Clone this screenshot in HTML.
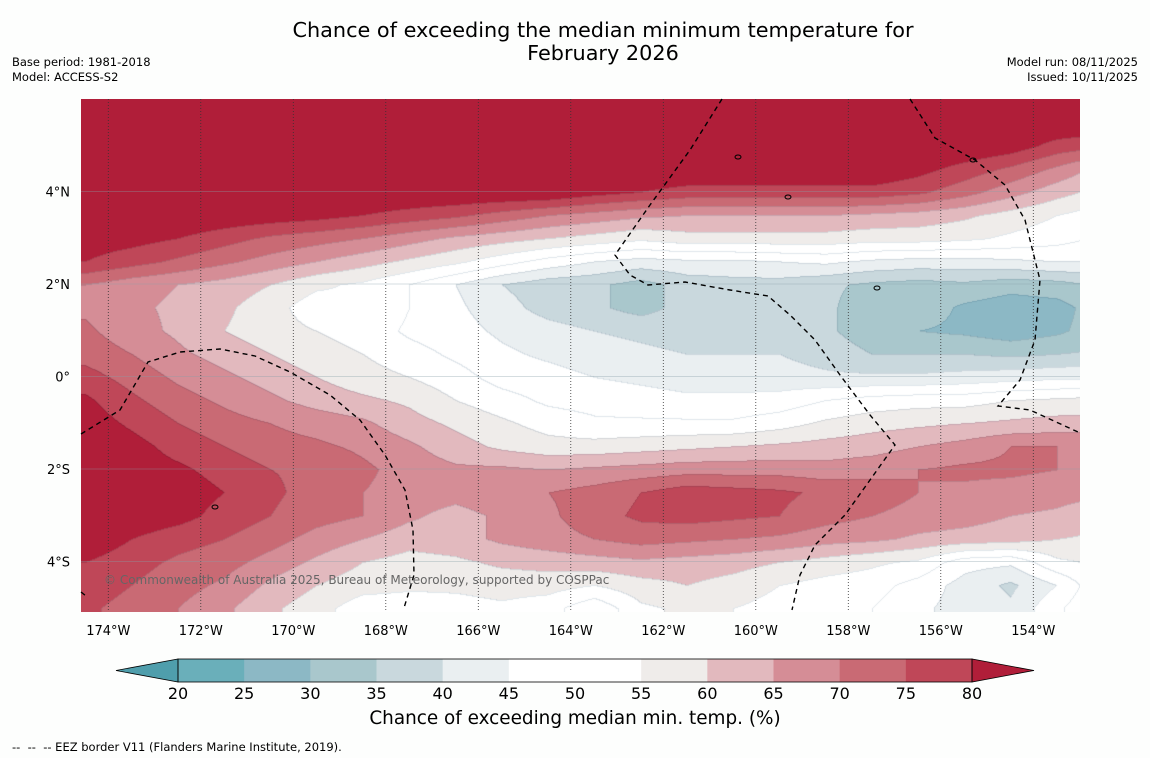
<!DOCTYPE html>
<html><head><meta charset="utf-8">
<style>
body{margin:0;background:#fdfefd;font-family:"DejaVu Sans",sans-serif;}
#wrap{position:relative;width:1150px;height:758px;overflow:hidden;background:#fdfefd;}
.t{position:absolute;color:#000;white-space:nowrap;}
</style></head>
<body>
<div id="wrap">
<div class="t" style="left:0;width:1206px;text-align:center;top:19px;font-size:20.8px;line-height:23px;">Chance of exceeding the median minimum temperature for<br>February 2026</div>
<div class="t" style="left:12px;top:55px;font-size:11.5px;line-height:15px;">Base period: 1981-2018<br>Model: ACCESS-S2</div>
<div class="t" style="right:12px;top:55px;font-size:11.5px;line-height:15px;text-align:right;">Model run: 08/11/2025<br>Issued: 10/11/2025</div>
<canvas id="map" width="999" height="513" style="position:absolute;left:81px;top:99px;"></canvas>
<svg id="ov" width="1150" height="758" style="position:absolute;left:0;top:0;"></svg>
<div class="t" style="left:104px;top:573px;font-size:12px;color:#666;">© Commonwealth of Australia 2025, Bureau of Meteorology, supported by COSPPac</div>
<div class="t" style="left:0;width:1150px;text-align:center;top:708px;font-size:18.4px;">Chance of exceeding median min. temp. (%)</div>
<div class="t" style="left:12px;top:740px;font-size:11.5px;">-- &nbsp;-- &nbsp;-- EEZ border V11 (Flanders Marine Institute, 2019).</div>
</div>
<script>
const levels=[20,25,30,35,40,45,50,55,60,65,70,75,80];
const bandColors=["#4f9eac","#6aafba","#8cb8c5","#a9c7cc","#c9d8dd","#eaeff1","#ffffff","#ffffff","#efecea","#e2b9be","#d58d96","#c96a74","#bf4758","#b01e39"];
const lonTicks=[-174,-172,-170,-168,-166,-164,-162,-160,-158,-156,-154];
const latTicks=[4,2,0,-2,-4];
const gridLons=[-174.5,-173.5,-172.5,-171.5,-170.5,-169.5,-168.5,-167.5,-166.5,-165.5,-164.5,-163.5,-162.5,-161.5,-160.5,-159.5,-158.5,-157.5,-156.5,-155.5,-154.5,-153.5,-152.5];
const gridLats=[6,5.5,5,4.5,4,3.5,3,2.5,2,1.5,1,0.5,0,-0.5,-1,-1.5,-2,-2.5,-3,-3.5,-4,-4.5,-5,-5.5];
const r6=[85,85,85,85,85,85,85,85,85,85,85,85,85,85,85,85,85,85,85,85,85,85,85];
const r55=[85,85,85,85,85,85,85,85,85,85,85,85,85,85,85,85,85,85,85,85,85,85,84];
const r5=[85,85,85,85,85,85,85,85,85,85,85,85,85,85,85,85,85,85,85,85,83,78,76];
const r45=[85,85,85,85,85,85,85,85,85,85,85,85,85,85,85,85,85,85,82,78,74,69,63];
const r4=[85,85,85,85,85,85,85,85,85,85,85,82,80,78,78,78,78,78,76,72,67,62,58];
const r35=[85,85,85,84,83,82,80,78,76,73,70,68,66,65,65,65,65,64,63,61,58,55,52];
const r3=[83,82,80,77,74,72,70,67,64,62,60,58,56,58,58,58,58,57,57,56,54,52,49];
const r25=[80,77,74,71,68,65,62,59,56,52,48,45,43,44,44,45,46,44,43,43,44,45,45];
const r2=[70,67,65,63,60,56,54,50,45,40,37,36,33,37,38,38,36,34,33,34,32,33,36];
const r15=[69,66,64,61,57,52,55,50,46,42,38,36,33,37,38,38,36,32,33,29,27,28,33];
const r1=[71,67,64,60,57,55,53,49,47,44,42,40,39,38,38,38,36,32,30,29,27,29,33];
const r05=[73,70,66,63,60,57,55,52,49,46,44,42,41,40,40,40,38,35,35,35,34,35,36];
const r0=[77,73,69,66,63,60,57,55,52,48,47,45,44,43,43,42,41,41,41,42,43,44,44];
const rm05=[81,76,72,69,66,63,61,59,55,52,49,48,47,46,46,47,50,52,53,53,55,56,57];
const rm1=[83,79,75,72,70,68,66,62,59,56,53,51,51,51,51,53,56,58,59,60,61,62,62];
const rm15=[85,82,78,75,72,71,69,66,62,59,57,57,58,59,60,61,62,63,65,67,70,70,70];
const rm2=[85,83,81,78,75,74,71,68,66,66,65,66,67,68,68,68,67,68,70,71,71,70,68];
const rm25=[86,85,83,80,76,73,70,68,67,69,70,72,75,78,77,76,74,73,70,69,68,67,66];
const rm3=[85,84,82,78,75,72,70,66,63,66,69,73,76,77,76,75,72,70,68,67,65,64,61];
const rm35=[84,80,77,75,72,68,65,62,63,66,68,70,72,71,70,69,67,66,64,63,62,60,59];
const rm4=[80,77,74,72,68,64,60,58,59,61,62,63,64,63,62,60,58,56,54,47,46,54,56];
const rm45=[78,75,72,69,64,60,57,56,56,57,57,55,58,60,58,55,53,52,48,43,39,45,55];
const rm5=[76,73,70,66,61,57,52,52,53,54,52,46,54,56,55,53,51,50,46,43,41,49,56];
const rm55=[76,73,70,66,61,57,52,52,53,54,52,46,54,56,55,53,51,50,46,43,41,49,56];
const grid=[r6,r55,r5,r45,r4,r35,r3,r25,r2,r15,r1,r05,r0,rm05,rm1,rm15,rm2,rm25,rm3,rm35,rm4,rm45,rm5,rm55];

const X0=81,Y0=99,W=999,H=513,PX=46.25,LON0=-174.59,LAT0=6.0;
const xOf=lon=>X0+(lon-LON0)*PX;
const yOf=lat=>Y0+(LAT0-lat)*PX;
function band(v){let i=0;while(i<levels.length&&v>=levels[i])i++;return i;}
function hex(c){return [parseInt(c.substr(1,2),16),parseInt(c.substr(3,2),16),parseInt(c.substr(5,2),16)];}
const rgb=bandColors.map(hex);
function val(lon,lat){
 const dl=gridLons[1]-gridLons[0];
 let fi=(lon-gridLons[0])/dl;fi=Math.max(0,Math.min(gridLons.length-1.001,fi));
 let fj=(gridLats[0]-lat)/(gridLats[0]-gridLats[1]);fj=Math.max(0,Math.min(gridLats.length-1.001,fj));
 const i=Math.floor(fi),j=Math.floor(fj),a=fi-i,b=fj-j;
 return grid[j][i]*(1-a)*(1-b)+grid[j][i+1]*a*(1-b)+grid[j+1][i]*(1-a)*b+grid[j+1][i+1]*a*b;
}
const cv=document.getElementById('map'),ctx=cv.getContext('2d');
const img=ctx.createImageData(W,H);
const B=new Uint8Array(W*H);
for(let y=0;y<H;y++)for(let x=0;x<W;x++){
 const lon=LON0+x/PX,lat=LAT0-y/PX;B[y*W+x]=band(val(lon,lat));}
for(let y=0;y<H;y++)for(let x=0;x<W;x++){
 const k=y*W+x,b=B[k];let c=rgb[b].slice();
 const edge=(x>0&&B[k-1]!==b)||(y>0&&B[k-W]!==b);
 if(edge){c=[c[0]*0.88,c[1]*0.9,c[2]*0.92];}
 img.data[k*4]=c[0];img.data[k*4+1]=c[1];img.data[k*4+2]=c[2];img.data[k*4+3]=255;}
ctx.putImageData(img,0,0);

const NS='http://www.w3.org/2000/svg';
const ov=document.getElementById('ov');
function mk(t,a,p){const e=document.createElementNS(NS,t);for(const k in a)e.setAttribute(k,a[k]);(p||ov).appendChild(e);return e;}
lonTicks.forEach(l=>{
 const x=xOf(l);
 const g=mk('line',{x1:x,x2:x,y1:Y0,y2:Y0+H,stroke:'#333','stroke-width':0.8,'stroke-dasharray':'1,2'});
 
 
 const t=mk('text',{x:x,y:635,'text-anchor':'middle','font-size':13,'font-family':'DejaVu Sans, sans-serif'});
 t.textContent=Math.abs(l)+'°W';
 
 
});
latTicks.forEach(l=>{
 const y=yOf(l);
 const g=mk('line',{x1:X0,x2:X0+W,y1:y,y2:y,stroke:'#8aa0a8','stroke-width':0.6,'stroke-opacity':0.7});
 
 
 const t=mk('text',{x:70,y:y+5,'text-anchor':'end','font-size':13,'font-family':'DejaVu Sans, sans-serif'});
 t.textContent=l===0?'0°':Math.abs(l)+'°'+(l>0?'N':'S');
 
 
});
const eez=["M81,434 L120,410 L148,362 L180,352 L220,349 L255,356 L290,372 L330,395 L360,420 L385,455 L405,490 L413,530 L414,575 L404,608",
"M722,99 L690,150 L650,205 L615,255 L630,275 L648,285 L685,282 L730,290 L768,296 L790,315 L815,340 L840,375 L870,415 L895,445 L870,480 L845,515 L815,545 L800,575 L792,610",
"M910,99 L935,138 L975,160 L1005,185 L1025,220 L1040,280 L1035,340 L1020,380 L998,406 L1030,410 L1078,432",
"M81,592 L86,596"];
eez.forEach(d=>{const p=mk('path',{d:d,fill:'none',stroke:'#000','stroke-width':1.4,'stroke-dasharray':'5,4'});
 
 });
[[788,197],[877,288],[215,507],[738,157],[973,160]].forEach(p=>{const e=mk('ellipse',{cx:p[0],cy:p[1],rx:3,ry:2,fill:'none',stroke:'#000','stroke-width':1});
 
 });
const CB0=178,CB1=972,CBY=659,CBH=23;
const seg=(CB1-CB0)/(levels.length-1);
for(let i=0;i<levels.length-1;i++){
 const r=mk('rect',{x:CB0+i*seg,y:CBY,width:seg+0.5,height:CBH,fill:bandColors[i+1]});
 
 
}
const lt=mk('polygon',{points:`${CB0},${CBY} ${CB0},${CBY+CBH} 116,${CBY+CBH/2}`,fill:bandColors[0],stroke:'#000','stroke-width':0.8});


const rt=mk('polygon',{points:`${CB1},${CBY} ${CB1},${CBY+CBH} 1034,${CBY+CBH/2}`,fill:bandColors[13],stroke:'#000','stroke-width':0.8});


const fr=mk('rect',{x:CB0,y:CBY,width:CB1-CB0,height:CBH,fill:'none',stroke:'#000','stroke-width':0.8});


levels.forEach((l,i)=>{
 const t=mk('text',{x:CB0+i*seg,y:699,'text-anchor':'middle','font-size':16,'font-family':'DejaVu Sans, sans-serif'});
 t.textContent=l;
 
 
});
</script>
</body></html>
